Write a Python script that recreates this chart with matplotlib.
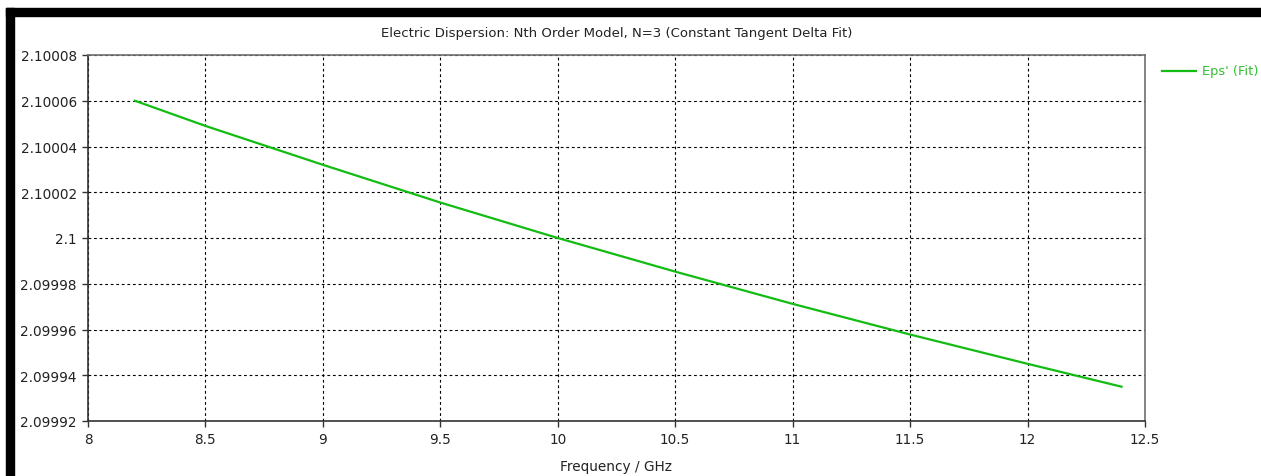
import matplotlib
matplotlib.use("Agg")
import matplotlib.pyplot as plt
from matplotlib.patches import Rectangle
from matplotlib.lines import Line2D

W, H = 1261, 477
freq_ghz = [8.2, 8.5, 9.0, 9.5, 10.0, 10.5, 11.0, 11.5, 12.0, 12.4]
eps_fit = [2.10006, 2.100049, 2.100032, 2.1000155, 2.10000, 2.0999853,
           2.0999712, 2.0999578, 2.099945, 2.099935]
xticks = [8, 8.5, 9, 9.5, 10, 10.5, 11, 11.5, 12, 12.5]
xtick_labels = ["8", "8.5", "9", "9.5", "10", "10.5", "11", "11.5", "12", "12.5"]
yticks = [2.09992, 2.09994, 2.09996, 2.09998, 2.1, 2.10002, 2.10004, 2.10006, 2.10008]
ytick_labels = ["2.09992", "2.09994", "2.09996", "2.09998", "2.1", "2.10002",
                "2.10004", "2.10006", "2.10008"]
title = "Electric Dispersion: Nth Order Model, N=3 (Constant Tangent Delta Fit)"
xlabel = "Frequency / GHz"
legend_label = "Eps' (Fit)"

plt.rcParams['font.family'] = ['DejaVu Sans']
fig = plt.figure(figsize=(W / 100, H / 100), dpi=100)
fig.patch.set_facecolor("white")

def px(x0, y0, x1, y1):
    return [x0 / W, 1 - y1 / H, (x1 - x0) / W, (y1 - y0) / H]

# black frame bars
fig.patches.append(Rectangle((6 / W, 1 - 17 / H), 1 - 6 / W, 8 / H,
                             transform=fig.transFigure, color="black", zorder=0))
fig.patches.append(Rectangle((6 / W, 0), 8 / W, 1 - 9 / H,
                             transform=fig.transFigure, color="black", zorder=0))

green = "#12bc12"
ax = fig.add_axes(px(88, 56, 1145, 422))
ax.plot(freq_ghz, eps_fit, color=green, lw=1.6, zorder=3)
ax.set_xlim(8, 12.5)
ax.set_ylim(2.09992, 2.10008)
ax.set_xticks(xticks)
ax.set_xticklabels(xtick_labels)
ax.set_yticks(yticks)
ax.set_yticklabels(ytick_labels)
ax.grid(True, color="black", linestyle=(0, (2.5, 2.5)), linewidth=0.8)
for s in ["left", "bottom"]:
    ax.spines[s].set_color("#333333")
    ax.spines[s].set_linewidth(1.2)
for s in ["top", "right"]:
    ax.spines[s].set_color("#707070")
    ax.spines[s].set_linewidth(1.2)
ax.tick_params(direction="out", length=4, width=1, color="#333333",
               labelsize=9.8, labelcolor="#222222", pad=4)
ax.set_xlabel(xlabel, fontsize=9.8, color="#222222", labelpad=9)
ax.set_title(title, fontsize=9.5, color="#222222", pad=14)

# legend outside to the right
fig.add_artist(Line2D([1162 / W, 1196 / W], [1 - 72 / H, 1 - 72 / H],
                      transform=fig.transFigure, color=green, lw=1.6))
fig.text(1202 / W, 1 - 72 / H, legend_label, color="#30c030", fontsize=9.4,
         va="center", ha="left")

fig.savefig("out.png", dpi=100, facecolor="white")
